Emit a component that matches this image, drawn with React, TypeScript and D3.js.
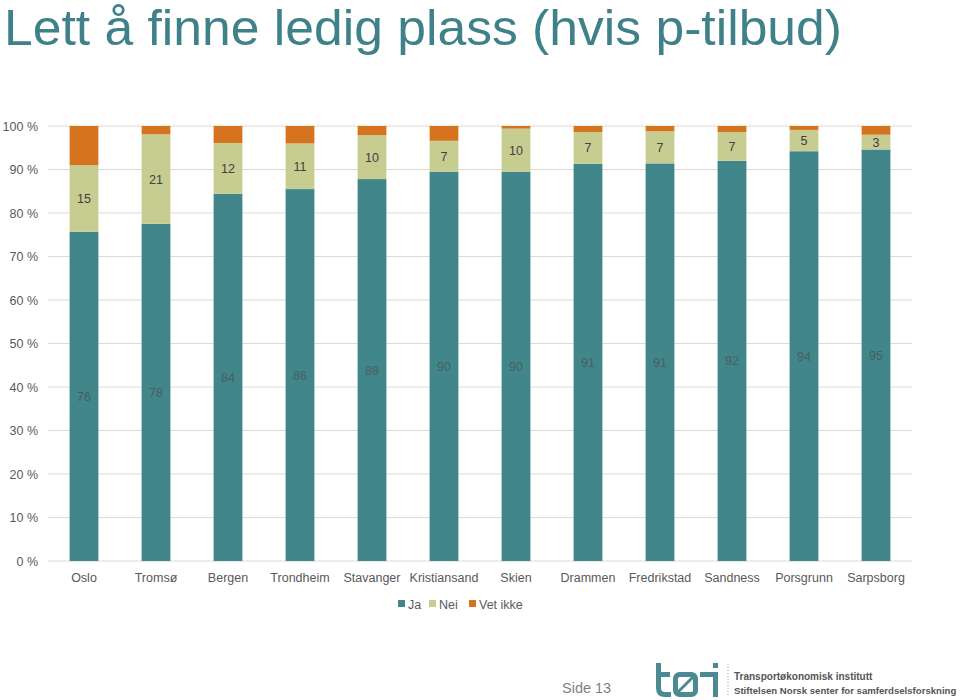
import React from "react";
import * as d3 from "d3";

const categories = ["Oslo", "Tromsø", "Bergen", "Trondheim", "Stavanger", "Kristiansand", "Skien", "Drammen", "Fredrikstad", "Sandness", "Porsgrunn", "Sarpsborg"];
const ja = [75.7, 77.5, 84.4, 85.5, 87.8, 89.5, 89.5, 91.3, 91.4, 92.0, 94.2, 94.6];
const nei = [15.3, 20.6, 11.7, 10.5, 10.1, 7.1, 9.9, 7.3, 7.4, 6.6, 4.9, 3.4];
const vetIkke = [9.0, 1.9, 3.9, 4.0, 2.1, 3.4, 0.6, 1.4, 1.2, 1.4, 0.9, 2.0];
const seriesNames = ["Ja", "Nei", "Vet ikke"];
const yTicks = [0, 10, 20, 30, 40, 50, 60, 70, 80, 90, 100];

const colors = ["#40868b", "#c7cd91", "#d5731f"];
const FONT = "'Liberation Sans', Arial, sans-serif";

export default function App() {
  const W = 960, H = 700;
  const left = 48, right = 912, top = 126, bottom = 561;
  const x = d3.scaleBand<string>().domain(categories).range([left, right]).paddingInner(0.6).paddingOuter(0.3);
  const y = d3.scaleLinear().domain([0, 100]).range([bottom, top]);

  const rows = categories.map((c, i) => ({ cat: c, Ja: ja[i], Nei: nei[i], "Vet ikke": vetIkke[i] }));
  const stack = d3.stack<any>().keys(seriesNames)(rows);
  const logo = "#4a8a90";

  return (
    <svg width={W} height={H} style={{ position: "absolute", left: 0, top: 0, background: "#fff" }} fontFamily={FONT}>
      <rect width={W} height={H} fill="#fff" />
      <text x={4} y={45} fontSize={50} fill="#3f8189" textLength={838} lengthAdjust="spacingAndGlyphs">Lett å finne ledig plass (hvis p-tilbud)</text>

      {yTicks.map((t) => (
        <g key={t}>
          <line x1={left} x2={right} y1={y(t)} y2={y(t)} stroke="#dcdcdc" strokeWidth={1.2} />
          <text x={38} y={y(t) + 4.5} fontSize={12.5} fill="#595959" textAnchor="end">{t} %</text>
        </g>
      ))}

      {stack.map((s, si) => (
        <g key={s.key}>
          {s.map((d, i) => (
            <rect key={i} x={x(categories[i])} width={x.bandwidth()} y={y(d[1])} height={y(d[0]) - y(d[1])} fill={colors[si]} />
          ))}
        </g>
      ))}

      {stack.slice(0, 2).map((s, si) => (
        <g key={"l" + s.key}>
          {s.map((d, i) => (
            <text key={i} x={(x(categories[i]) as number) + x.bandwidth() / 2} y={(y(d[0]) + y(d[1])) / 2 + 4.5}
              fontSize={12.5} textAnchor="middle" fill={si === 0 ? "#4b5e60" : "#404040"}>
              {Math.round(d[1] - d[0])}
            </text>
          ))}
        </g>
      ))}

      {categories.map((c) => (
        <text key={c} x={(x(c) as number) + x.bandwidth() / 2} y={582} fontSize={12.5} textAnchor="middle" fill="#595959">{c}</text>
      ))}

      {(() => {
        const items = [
          { name: seriesNames[0], x: 398 },
          { name: seriesNames[1], x: 429 },
          { name: seriesNames[2], x: 469 },
        ];
        return items.map((it, i) => (
          <g key={it.name}>
            <rect x={it.x} y={600} width={7} height={7} fill={colors[i]} />
            <text x={it.x + 10} y={609} fontSize={12.5} fill="#595959">{it.name}</text>
          </g>
        ));
      })()}

      <text x={562} y={693} fontSize={14.5} fill="#7f7f7f">Side 13</text>

      <g fill="none" stroke={logo} strokeWidth={5}>
        <path d="M658.5,663 V688 Q658.5,694.5 665,694.5 H671" />
        <path d="M656,674.5 H670" />
        <rect x={675.5} y={674.5} width={20} height={20} rx={4} />
        <path d="M678,692 L693,677" strokeWidth={3} />
        <path d="M700,674.5 H715.5 V697" />
      </g>
      <rect x={713} y={663} width={5} height={5} fill={logo} />

      <line x1={728} x2={728} y1={664} y2={697} stroke="#9a9a9a" strokeDasharray="1,2" />
      <text x={734} y={680} fontSize={10} fontWeight="bold" fill="#555">Transportøkonomisk institutt</text>
      <text x={734} y={694} fontSize={9.6} fontWeight="bold" fill="#555">Stiftelsen Norsk senter for samferdselsforskning</text>
    </svg>
  );
}
